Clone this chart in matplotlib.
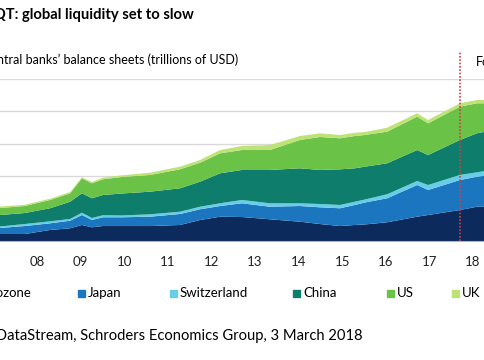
import matplotlib.pyplot as plt
from matplotlib.patches import Rectangle

plt.rcParams['font.family'] = ['Lato', 'DejaVu Sans']

# central bank balance sheets, trillions of USD
years = [2007.0, 2007.15, 2007.72, 2008.30, 2008.76, 2009.03, 2009.26, 2009.51,
         2009.95, 2010.59, 2011.28, 2011.74, 2012.20, 2012.70, 2013.34, 2014.03,
         2014.49, 2014.95, 2015.29, 2015.52, 2016.03, 2016.72, 2016.97, 2017.70,
         2018.09, 2018.28, 2019.0]
eurozone = [1.08, 1.08, 1.08, 1.70, 1.96, 2.47, 2.11, 2.31, 2.31, 2.31, 2.47, 3.24, 3.75,
            3.70, 3.35, 2.98, 2.62, 2.31, 2.47, 2.55, 2.89, 3.75, 4.01, 4.78, 5.29, 5.29, 5.29]
japan = [0.93, 0.93, 1.23, 1.03, 1.17, 1.54, 1.13, 1.35, 1.35, 1.44, 1.70, 1.65, 1.65,
         2.12, 1.94, 2.42, 2.58, 2.74, 3.09, 3.39, 3.70, 4.89, 3.86, 4.63, 4.63, 4.79, 4.79]
switzerland = [0.23, 0.23, 0.31, 0.31, 0.27, 0.36, 0.31, 0.31, 0.28, 0.37, 0.35, 0.40, 0.42,
               0.51, 0.53, 0.42, 0.51, 0.51, 0.50, 0.46, 0.62, 0.62, 0.77, 0.78, 0.68, 0.72, 0.72]
china = [1.77, 1.77, 1.70, 2.01, 2.66, 2.99, 3.04, 3.13, 3.39, 3.49, 3.61, 3.86, 4.63,
         4.63, 5.14, 5.40, 5.25, 5.50, 5.16, 5.07, 4.78, 4.78, 4.63, 5.40, 6.02, 6.07, 6.07]
us = [1.08, 1.08, 1.08, 1.28, 1.30, 2.32, 2.31, 2.42, 2.55, 2.58, 2.93, 2.93, 3.08,
      3.08, 3.08, 4.37, 5.09, 4.79, 4.98, 4.89, 4.88, 5.14, 4.89, 5.14, 4.63, 4.38, 4.38]
uk = [0.23, 0.23, 0.20, 0.20, 0.20, 0.15, 0.20, 0.25, 0.26, 0.35, 0.41, 0.42, 0.51,
      0.62, 0.77, 0.61, 0.57, 0.51, 0.51, 0.46, 0.61, 0.53, 0.51, 0.52, 0.51, 0.51, 0.51]

names = ["Eurozone", "Japan", "Switzerland", "China", "US", "UK"]
colors = ["#0c2a5c", "#1c76bf", "#68cde9", "#0e7d6c", "#6ac246", "#bfe277"]
tick_years = list(range(2007, 2019))
tick_labels = ["%02d" % (y % 100) for y in tick_years]
forecast_start = 2017.7

W, H = 485, 360
fig = plt.figure(figsize=(W / 100, H / 100), dpi=100)


def px(year):
    return 37 + (year - 2008) * 43.6


left = px(2007.0)
right = px(2019.0)
ax = fig.add_axes([left / W, (H - 241) / H, (right - left) / W, 162 / H])

ax.stackplot(years, eurozone, japan, switzerland, china, us, uk,
             colors=colors, linewidth=0, zorder=2)
ax.set_xlim(2007, 2019)
ax.set_ylim(0, 25)
ax.set_yticks([5, 10, 15, 20, 25])
ax.yaxis.grid(True, color="#d9d9d9", linewidth=1)
ax.set_axisbelow(True)
ax.tick_params(axis="y", left=False, labelleft=False)
ax.set_xticks(tick_years)
ax.set_xticklabels(tick_labels)
ax.tick_params(axis="x", length=0, pad=11, labelsize=9.5, colors="#222222")
for s in ["top", "left", "right"]:
    ax.spines[s].set_visible(False)
ax.spines["bottom"].set_color("#aab6c8")

ax.plot([forecast_start] * 2, [0, 29.2], color="#c8434a", linestyle=(0, (1, 1)),
        linewidth=1.2, clip_on=False, zorder=5)
fig.text(476 / W, 1 - 62 / H, "Forecast", fontsize=9, va="center", ha="left")

fig.text(194 / W, 1 - 15 / H, "QT: global liquidity set to slow", fontsize=10.6,
         fontweight="bold", ha="right", va="center")
fig.text(238 / W, 1 - 60 / H, "Central banks\u2019 balance sheets (trillions of USD)",
         fontsize=9, ha="right", va="center")
fig.text(363 / W, 1 - 336 / H,
         "Source: Thomson Reuters DataStream, Schroders Economics Group, 3 March 2018",
         fontsize=10.6, ha="right", va="center")

# legend row
marker_x = [-33, 78, 170, 293, 387, 452]
for name, col, mx in zip(names, colors, marker_x):
    fig.add_artist(Rectangle((mx / W, 1 - 296.5 / H), 7 / W, 7 / H, color=col,
                             transform=fig.transFigure))
    if name == "Eurozone":
        fig.text(-23 / W, 1 - 293 / H, name, fontsize=9.5, ha="left", va="center")
    else:
        fig.text((mx + 10) / W, 1 - 293 / H, name, fontsize=9.5, ha="left", va="center")

fig.savefig("out.png", dpi=100, facecolor="white")
